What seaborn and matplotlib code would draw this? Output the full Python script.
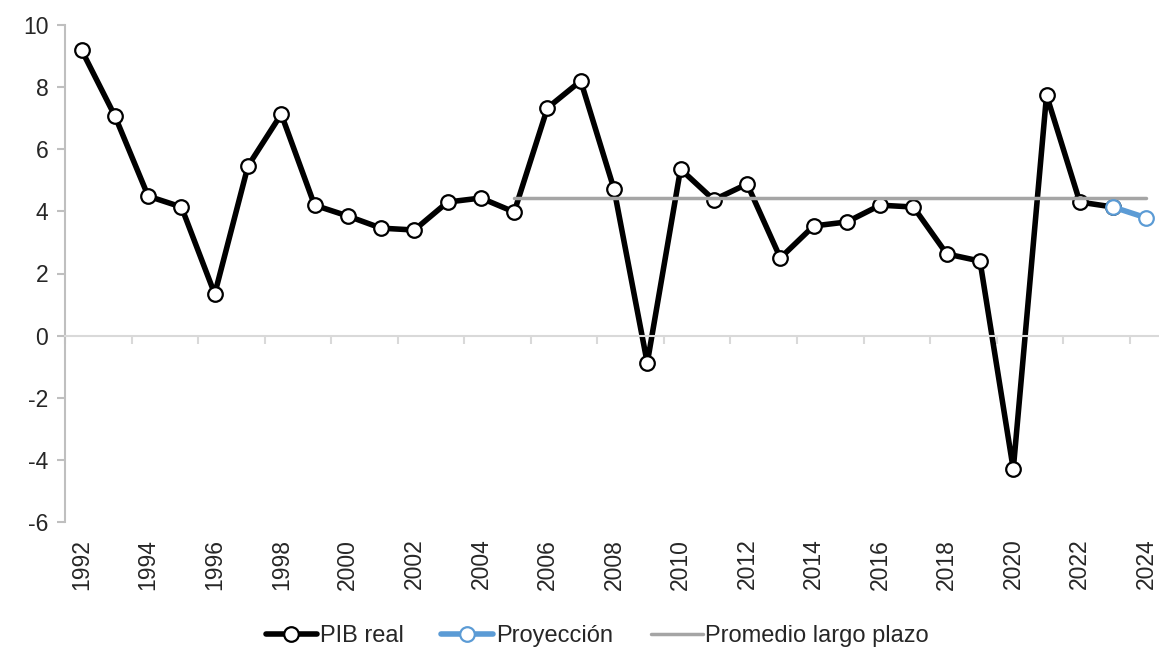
import pandas as pd
import matplotlib.pyplot as plt
import seaborn as sns

sns.set_style('white')
plt.rcParams['font.family'] = ['Liberation Sans', 'DejaVu Sans']
plt.rcParams['axes.unicode_minus'] = False

# data
years = list(range(1992, 2024))
pib_real = [9.19, 7.07, 4.49, 4.14, 1.34, 5.46, 7.13, 4.20, 3.85, 3.46,
            3.40, 4.30, 4.43, 3.98, 7.33, 8.20, 4.72, -0.88, 5.36, 4.37,
            4.88, 2.50, 3.53, 3.66, 4.20, 4.14, 2.63, 2.40, -4.30, 7.74,
            4.30, 4.14]
proj_years = [2023, 2024]
proyeccion = [4.14, 3.79]
avg_years = [2005, 2024]
promedio = [4.43, 4.43]

df = pd.DataFrame({'year': years, 'value': pib_real})
df_proj = pd.DataFrame({'year': proj_years, 'value': proyeccion})
df_avg = pd.DataFrame({'year': avg_years, 'value': promedio})

fig = plt.figure(figsize=(11.59, 6.5), dpi=100)
ax = fig.add_axes([65 / 1159, 1 - 522 / 650, 1098 / 1159, 497 / 650])

sns.lineplot(data=df, x='year', y='value', ax=ax, color='black', linewidth=4,
             marker='o', markersize=10.5, markerfacecolor='white',
             markeredgecolor='black', markeredgewidth=1.6, label='PIB real', zorder=2)
sns.lineplot(data=df_proj, x='year', y='value', ax=ax, color='#5B9BD5', linewidth=4,
             marker='o', markersize=10.5, markerfacecolor='white',
             markeredgecolor='#5B9BD5', markeredgewidth=1.6, label='Proyección', zorder=4)
sns.lineplot(data=df_avg, x='year', y='value', ax=ax, color='#A5A5A5', linewidth=2.5,
             label='Promedio largo plazo', zorder=3)

ax.set_xlim(1991.5, 2024.5)
ax.set_ylim(-6, 10)
ax.set_yticks(range(-6, 11, 2))
ax.set_xlabel('')
ax.set_ylabel('')

# spines: left gray, x axis line at zero
for s in ['top', 'right']:
    ax.spines[s].set_visible(False)
ax.spines['left'].set_color('#BFBFBF')
ax.spines['left'].set_linewidth(1.5)
ax.spines['bottom'].set_position(('data', 0))
ax.spines['bottom'].set_color('#D9D9D9')
ax.spines['bottom'].set_linewidth(1.5)
ax.set_xticks([y + 0.5 for y in range(1991, 2024, 2)])
ax.tick_params(axis='x', bottom=True, direction='out', length=6, width=1.5,
               color='#D9D9D9', labelbottom=False)
ax.tick_params(axis='y', left=True, direction='out', length=6, width=1.5,
               color='#BFBFBF', labelsize=16.5, pad=6)

# year labels along the bottom
sec = ax.secondary_xaxis(0.0)
sec.spines['bottom'].set_visible(False)
sec.set_xticks(range(1992, 2025, 2))
sec.set_xticklabels([str(y) for y in range(1992, 2025, 2)], rotation=90, fontsize=16.5)
sec.tick_params(axis='x', bottom=False, length=0, pad=12)

ax.get_legend().remove()
handles, labels = ax.get_legend_handles_labels()
fig.legend(handles, labels, loc='center', bbox_to_anchor=(597 / 1159, 1 - 636 / 650),
           ncol=3, frameon=False, handlelength=2.2, columnspacing=1.6,
           handletextpad=0.1, prop={'size': 17})

plt.savefig('out.png', dpi=100)
